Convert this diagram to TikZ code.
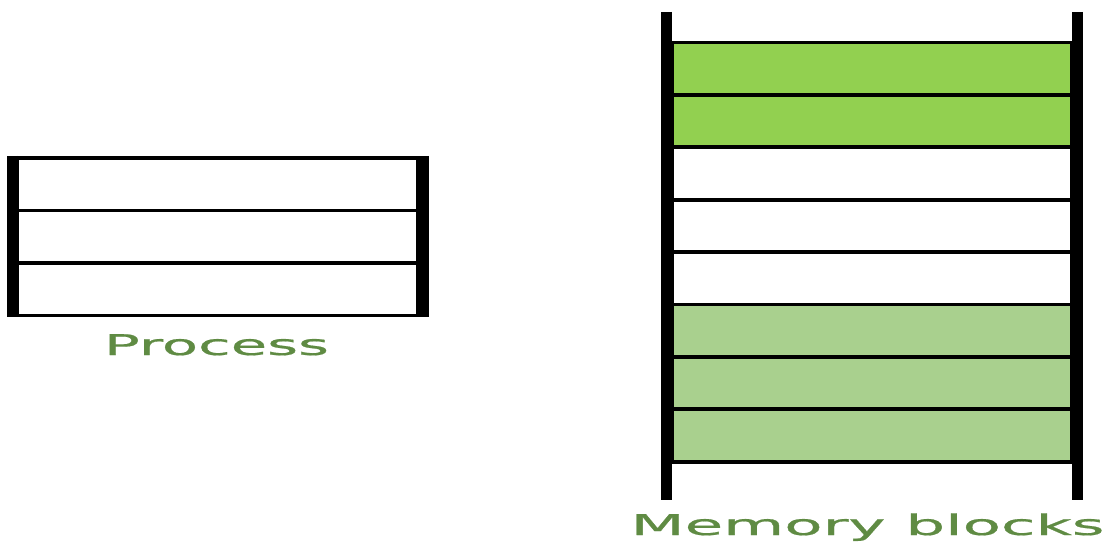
\documentclass[tikz,border=0pt]{standalone}
\usepackage{fontspec}
\setmainfont{DejaVu Sans}
\newfontfamily\lblfont{DejaVu Sans}[FakeBold=0.6]
\definecolor{labelgreen}{RGB}{95,139,67}
\definecolor{brightgreen}{RGB}{146,208,80}
\definecolor{palegreen}{RGB}{169,208,142}
\begin{document}
\begin{tikzpicture}[x=1pt,y=-1pt,
  bar/.style={line width=11pt},
  pblock/.style={draw=black, line width=3.8pt, minimum width=401pt, minimum height=52.4pt, inner sep=0pt, fill=white},
  mblock/.style={draw=black, line width=3.8pt, minimum width=400pt, minimum height=52.4pt, inner sep=0pt, fill=white},
  lbl/.style={text=labelgreen, font=\lblfont\fontsize{28.5}{30}\selectfont, inner sep=0pt, anchor=base}]
\useasboundingbox (0,0) rectangle (1108,545);
% Process
\node[pblock] (p1) at (217.5,184.4) {};
\node[pblock] (p2) at (217.5,236.8) {};
\node[pblock] (p3) at (217.5,289.2) {};
\coordinate (pl1) at (12,156); \coordinate (pl2) at (12,317);
\coordinate (pr1) at (423,156); \coordinate (pr2) at (423,317);
\draw[bar] (pl1) -- (pl2);
\draw[bar] (pr1) -- (pr2);
\node[lbl] (plabel) at (216.5,355) {\scalebox{2.08}[1]{Process}};
% Memory
\node[mblock, fill=brightgreen] (m1) at (872,68.7) {};
\node[mblock, fill=brightgreen] (m2) at (872,121.1) {};
\node[mblock] (m3) at (872,173.5) {};
\node[mblock] (m4) at (872,225.9) {};
\node[mblock] (m5) at (872,278.3) {};
\node[mblock, fill=palegreen] (m6) at (872,330.7) {};
\node[mblock, fill=palegreen] (m7) at (872,383.1) {};
\node[mblock, fill=palegreen] (m8) at (872,435.5) {};
\coordinate (ml1) at (666,12); \coordinate (ml2) at (666,500);
\coordinate (mr1) at (1077.5,12); \coordinate (mr2) at (1077.5,500);
\draw[bar] (ml1) -- (ml2);
\draw[bar] (mr1) -- (mr2);
\node[lbl] (mlabel) at (867.5,535) {\scalebox{2.2}[1]{Memory blocks}};
\end{tikzpicture}
\end{document}
